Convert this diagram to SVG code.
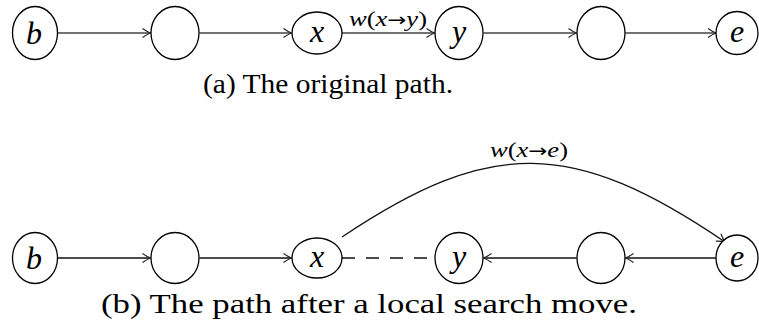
<svg xmlns="http://www.w3.org/2000/svg" width="759" height="326" viewBox="0 0 759 326">
<style>
  .node { fill: #fff; stroke: #000; stroke-width: 1.3; }
  .lbl { font-family: 'Liberation Serif', 'Times New Roman', serif; font-style: italic; font-size: 32px; text-anchor: middle; fill: #000; }
  .edge { fill: none; stroke: #111; stroke-width: 1.3; }
  .edgea { fill: none; stroke: #444; stroke-width: 1.4; }
  .elbl { font-family: 'Liberation Serif', 'Times New Roman', serif; font-size: 21px; fill: #000; }
  .elbl .i { font-style: italic; }
  .elbl .ar { font-family: 'DejaVu Sans', sans-serif; font-size: 18px; }
  .cap { font-family: 'Liberation Serif', 'Times New Roman', serif; font-size: 27px; fill: #000; }
</style>
<defs>
  <marker id="to" viewBox="-10 -6 12 12" refX="0" refY="0" markerWidth="12" markerHeight="12" markerUnits="userSpaceOnUse" orient="auto">
    <path d="M -8 -4.5 Q -3 -1 0 0 Q -3 1 -8 4.5" fill="none" stroke="#222" stroke-width="1.2"/>
  </marker>
</defs>

<g id="connectors">
  <line class="edgea" x1="57.5" y1="33" x2="150.5" y2="33" marker-end="url(#to)"/>
  <line class="edgea" x1="199.5" y1="33" x2="291.5" y2="33" marker-end="url(#to)"/>
  <line class="edgea" x1="342" y1="33" x2="434.5" y2="33" marker-end="url(#to)"/>
  <line class="edgea" x1="483.5" y1="33" x2="576.5" y2="33" marker-end="url(#to)"/>
  <line class="edgea" x1="625.5" y1="33" x2="716" y2="33" marker-end="url(#to)"/>
  <line class="edge" x1="57.5" y1="258" x2="150.5" y2="258" marker-end="url(#to)"/>
  <line class="edge" x1="199.5" y1="258" x2="291.5" y2="258" marker-end="url(#to)"/>
  <line class="edge" x1="342" y1="258" x2="435" y2="258" stroke-dasharray="13 11"/>
  <line class="edge" x1="716" y1="258" x2="625.5" y2="258" marker-end="url(#to)"/>
  <line class="edge" x1="576.5" y1="258" x2="483.5" y2="258" marker-end="url(#to)"/>
  <path class="edge" d="M 342 237 C 490 138 572 138 725 242" marker-end="url(#to)"/>
</g>

<g id="edge-label-xy">
  <text class="elbl" x="349" y="26" textLength="78" lengthAdjust="spacingAndGlyphs"><tspan class="i">w</tspan>(<tspan class="i">x</tspan><tspan class="ar">→</tspan><tspan class="i">y</tspan>)</text>
</g>
<g id="edge-label-xe">
  <text class="elbl" x="490" y="157" textLength="78" lengthAdjust="spacingAndGlyphs"><tspan class="i">w</tspan>(<tspan class="i">x</tspan><tspan class="ar">→</tspan><tspan class="i">e</tspan>)</text>
</g>

<g id="a-b"><ellipse class="node" cx="35" cy="33" rx="22.5" ry="26.5"/><text class="lbl" x="34" y="44">b</text></g>
<g id="a-n1"><ellipse class="node" cx="175" cy="33" rx="24" ry="26.5"/></g>
<g id="a-x"><ellipse class="node" cx="317" cy="33" rx="25" ry="21"/><text class="lbl" x="317" y="42">x</text></g>
<g id="a-y"><ellipse class="node" cx="459" cy="33" rx="24" ry="26.5"/><text class="lbl" x="459" y="42">y</text></g>
<g id="a-n2"><ellipse class="node" cx="601" cy="33" rx="24" ry="26.5"/></g>
<g id="a-e"><ellipse class="node" cx="737" cy="33" rx="21" ry="21.5"/><text class="lbl" x="737" y="42">e</text></g>

<g id="b-b"><ellipse class="node" cx="35" cy="258" rx="22.5" ry="25.5"/><text class="lbl" x="34" y="269">b</text></g>
<g id="b-n1"><ellipse class="node" cx="175" cy="258" rx="24" ry="25.5"/></g>
<g id="b-x"><ellipse class="node" cx="317" cy="258" rx="25" ry="20"/><text class="lbl" x="317" y="267">x</text></g>
<g id="b-y"><ellipse class="node" cx="459" cy="258" rx="24" ry="25.5"/><text class="lbl" x="459" y="267">y</text></g>
<g id="b-n2"><ellipse class="node" cx="601" cy="258" rx="24" ry="25.5"/></g>
<g id="b-e"><ellipse class="node" cx="737" cy="258" rx="21" ry="23"/><text class="lbl" x="737" y="267">e</text></g>

<text class="cap" x="203" y="93" textLength="250" lengthAdjust="spacingAndGlyphs">(a) The original path.</text>
<text class="cap" x="101" y="313" textLength="536" lengthAdjust="spacingAndGlyphs">(b) The path after a local search move.</text>
</svg>
